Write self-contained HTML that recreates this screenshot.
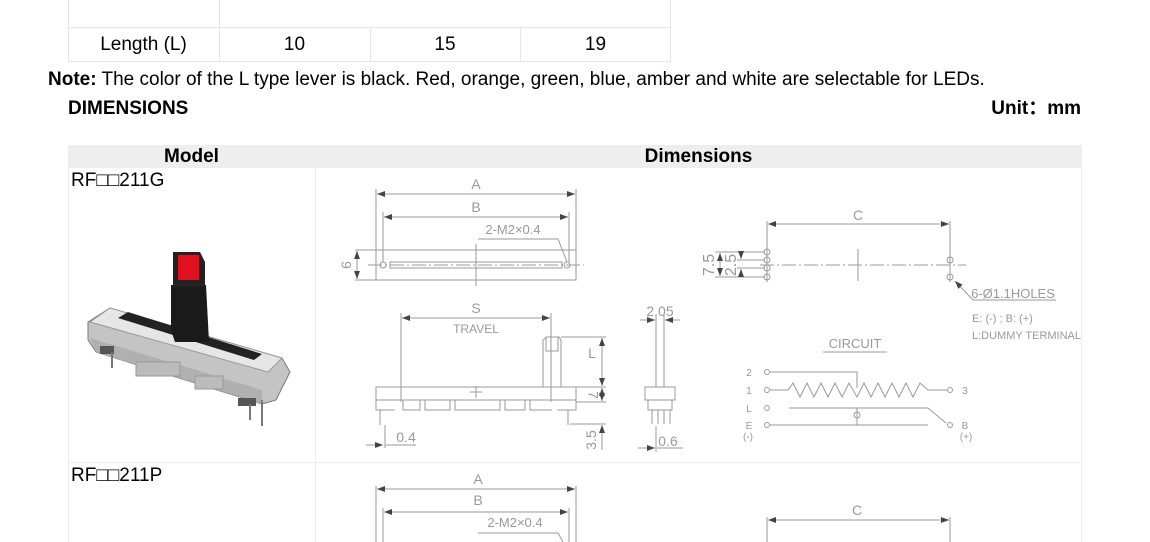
<!DOCTYPE html>
<html><head><meta charset="utf-8"><style>
body{margin:0;width:1150px;height:542px;overflow:hidden;background:#fff;font-family:"Liberation Sans",sans-serif;color:#000;position:relative}
.t{position:absolute;white-space:nowrap;line-height:22px}
.c{position:absolute;font-size:19px;text-align:center;line-height:22px}
svg{position:absolute;left:0;top:0}
</style></head><body>
<div class="t" style="left:68px;top:0;width:603px;height:62px;border:1px solid #e6e6e6;border-top:none;box-sizing:border-box"></div>
<div style="position:absolute;left:68px;top:27px;width:603px;height:1px;background:#e6e6e6"></div>
<div style="position:absolute;left:219px;top:0;width:1px;height:62px;background:#e6e6e6"></div>
<div style="position:absolute;left:370px;top:27px;width:1px;height:35px;background:#e6e6e6"></div>
<div style="position:absolute;left:520px;top:27px;width:1px;height:35px;background:#e6e6e6"></div>
<div class="c" style="left:68px;top:34px;width:151px">Length (L)</div>
<div class="c" style="left:219px;top:34px;width:151px">10</div>
<div class="c" style="left:370px;top:34px;width:150px">15</div>
<div class="c" style="left:520px;top:34px;width:151px">19</div>
<div class="t" style="left:48px;top:69px;font-size:19px"><b>Note:</b> The color of the L type lever is black. Red, orange, green, blue, amber and white are selectable for LEDs.</div>
<div class="t" style="left:68px;top:98px;font-size:19px;font-weight:bold">DIMENSIONS</div>
<div class="t" style="right:69px;top:98px;font-size:19px;font-weight:bold;font-family:'Liberation Sans','Noto Sans CJK SC',sans-serif">Unit：mm</div>
<div style="position:absolute;left:68px;top:145px;width:1014px;height:23px;background:#eeeeee"></div>
<div class="c" style="left:68px;top:146px;width:247px;font-weight:bold">Model</div>
<div class="c" style="left:315px;top:146px;width:767px;font-weight:bold">Dimensions</div>
<div style="position:absolute;left:68px;top:168px;width:1px;height:374px;background:#ececec"></div>
<div style="position:absolute;left:315px;top:168px;width:1px;height:374px;background:#ececec"></div>
<div style="position:absolute;left:1081px;top:168px;width:1px;height:374px;background:#ececec"></div>
<div style="position:absolute;left:68px;top:462px;width:1014px;height:1px;background:#ececec"></div>
<div class="t" style="left:71px;top:170px;font-size:19px;font-family:'Liberation Sans','Noto Sans CJK SC',sans-serif">RF□□211G</div>
<div class="t" style="left:71px;top:465px;font-size:19px;font-family:'Liberation Sans','Noto Sans CJK SC',sans-serif">RF□□211P</div>

<svg width="1150" height="542" viewBox="0 0 1150 542">
<defs><marker id="a" markerWidth="8" markerHeight="6" refX="8" refY="3" orient="auto-start-reverse"><path d="M0,0 L8,3 L0,6z" fill="#444"/></marker></defs>
<g>
<polygon points="88,322 110,308 282,358 290,372 276,400 262,404 96,352 88,340" fill="#c4c4c4" stroke="#777"/>
<polygon points="90,322 110,308 282,358 268,372" fill="#e6e6e6" stroke="#999"/>
<polygon points="118,318 128,312 262,354 254,360" fill="#222"/>
<polygon points="96,352 262,404 262,390 90,338" fill="#b0b0b0"/>
<rect x="136" y="362" width="44" height="14" fill="#bbb" stroke="#999"/>
<rect x="195" y="376" width="28" height="13" fill="#bbb" stroke="#999"/>
<rect x="100" y="346" width="14" height="8" fill="#555"/>
<rect x="238" y="398" width="18" height="8" fill="#555"/>
<line x1="112" y1="352" x2="112" y2="368" stroke="#777" stroke-width="2"/>
<line x1="262" y1="400" x2="262" y2="426" stroke="#777" stroke-width="2"/>
<line x1="250" y1="404" x2="250" y2="420" stroke="#777" stroke-width="2"/>
<polygon points="171,285 206,285 209,342 175,342 171,330" fill="#1a1a1a"/>
<polygon points="173,252 200,252 205,262 205,287 173,287" fill="#222"/>
<rect x="178" y="255" width="21" height="25" fill="#e01020"/>
</g>
<g stroke="#9a9a9a" fill="none" stroke-width="1">
<line x1="376" y1="189" x2="376" y2="280"/><line x1="576" y1="189" x2="576" y2="280"/>
<line x1="377" y1="194" x2="575" y2="194" marker-start="url(#a)" marker-end="url(#a)"/>
<line x1="383" y1="212" x2="383" y2="262"/><line x1="569" y1="212" x2="569" y2="262"/>
<line x1="384" y1="217" x2="568" y2="217" marker-start="url(#a)" marker-end="url(#a)"/>
<polyline points="478,239 558,239 567,262"/>
<rect x="376" y="250" width="200" height="30"/>
<rect x="390" y="262" width="172" height="6"/>
<circle cx="383" cy="265" r="3"/><circle cx="567" cy="265" r="3"/>
<line x1="368" y1="265" x2="584" y2="265" stroke-dasharray="14,3,2,3"/>
<line x1="476" y1="244" x2="476" y2="286"/>
<line x1="355" y1="250" x2="376" y2="250"/><line x1="355" y1="280" x2="376" y2="280"/>
<line x1="357" y1="251" x2="357" y2="279" marker-start="url(#a)" marker-end="url(#a)"/>
<line x1="401" y1="313" x2="401" y2="402"/><line x1="551" y1="313" x2="551" y2="402"/>
<line x1="402" y1="318" x2="550" y2="318" marker-start="url(#a)" marker-end="url(#a)"/>
<path d="M543,387 L543,340 L547,337 L559,337 L561,340 L561,387"/>
<rect x="546" y="337" width="12" height="14"/>
<rect x="376" y="387" width="200" height="13"/>
<path d="M376,400 L376,410 L395,410 M403,400 L403,410 L420,410 L420,400 M425,400 L425,410 L450,410 L450,400 M455,400 L455,410 L500,410 L500,400 M505,400 L505,410 L525,410 L525,400 M530,400 L530,410 L552,410 M557,410 L576,410 L576,400"/>
<line x1="380" y1="410" x2="380" y2="425"/><line x1="568" y1="410" x2="568" y2="425"/>
<line x1="476" y1="386" x2="476" y2="398"/><line x1="470" y1="392" x2="482" y2="392"/>
<line x1="561" y1="337" x2="606" y2="337"/><line x1="576" y1="387" x2="606" y2="387"/><line x1="576" y1="402" x2="606" y2="402"/><line x1="570" y1="424" x2="606" y2="424"/>
<line x1="602" y1="338" x2="602" y2="386" marker-start="url(#a)" marker-end="url(#a)"/>
<line x1="602" y1="388" x2="602" y2="401" marker-start="url(#a)" marker-end="url(#a)"/>
<line x1="602" y1="425" x2="602" y2="450" marker-start="url(#a)"/>
<line x1="385" y1="425" x2="385" y2="448"/><line x1="366" y1="445" x2="383" y2="445" marker-end="url(#a)"/><line x1="386" y1="445" x2="416" y2="445"/>
<line x1="656" y1="315" x2="656" y2="387"/><line x1="664" y1="315" x2="664" y2="387"/>
<line x1="640" y1="320" x2="655" y2="320" marker-end="url(#a)"/><line x1="665" y1="320" x2="680" y2="320" marker-start="url(#a)"/>
<rect x="645" y="387" width="30" height="13"/>
<path d="M648,400 L648,410 L672,410 L672,400"/>
<line x1="652" y1="410" x2="652" y2="424"/><line x1="658" y1="410" x2="658" y2="424"/><line x1="664" y1="410" x2="664" y2="424"/><line x1="670" y1="410" x2="670" y2="424"/>
<line x1="656" y1="426" x2="656" y2="452"/><line x1="638" y1="448" x2="655" y2="448" marker-end="url(#a)"/><line x1="657" y1="448" x2="683" y2="448"/>
<line x1="767" y1="221" x2="767" y2="282"/><line x1="950" y1="221" x2="950" y2="282"/>
<line x1="768" y1="224" x2="949" y2="224" marker-start="url(#a)" marker-end="url(#a)"/>
<line x1="760" y1="265" x2="966" y2="265" stroke-dasharray="14,3,2,3"/>
<line x1="858" y1="249" x2="858" y2="281"/>
<circle cx="767" cy="252" r="3"/><circle cx="767" cy="260" r="3"/><circle cx="767" cy="268" r="3"/><circle cx="767" cy="277" r="3"/>
<circle cx="950" cy="260" r="3"/><circle cx="950" cy="277" r="3"/>
<line x1="715" y1="252" x2="765" y2="252"/><line x1="715" y1="277" x2="765" y2="277"/>
<line x1="720" y1="253" x2="720" y2="276" marker-start="url(#a)" marker-end="url(#a)"/>
<line x1="737" y1="260" x2="765" y2="260"/><line x1="737" y1="268" x2="765" y2="268"/>
<line x1="741" y1="253" x2="741" y2="259" marker-end="url(#a)"/><line x1="741" y1="275" x2="741" y2="269" marker-end="url(#a)"/>
<polyline points="1056,300 973,300 955,281" marker-end="url(#a)"/>
<line x1="823" y1="352" x2="887" y2="352"/>
<circle cx="767" cy="372" r="2.5"/><circle cx="767" cy="390" r="2.5"/><circle cx="767" cy="408" r="2.5"/><circle cx="767" cy="425" r="2.5"/>
<circle cx="950" cy="390" r="2.5"/><circle cx="950" cy="425" r="2.5"/>
<polyline points="770,372 857,372 857,388"/>
<polyline points="770,390 788,390 793,383 800,397 807,383 814,397 821,383 828,397 835,383 842,397 849,383 857,397 864,383 871,397 878,383 885,397 892,383 899,397 906,383 913,397 920,383 928,390 947,390"/>
<polyline points="789,408 928,408 946,423"/>
<line x1="770" y1="425" x2="928" y2="425"/>
<line x1="857" y1="408" x2="857" y2="425"/><circle cx="857" cy="415" r="3"/>
<line x1="376" y1="486" x2="376" y2="542"/><line x1="576" y1="486" x2="576" y2="542"/>
<line x1="377" y1="489" x2="575" y2="489" marker-start="url(#a)" marker-end="url(#a)"/>
<line x1="383" y1="508" x2="383" y2="542"/><line x1="569" y1="508" x2="569" y2="542"/>
<line x1="384" y1="512" x2="568" y2="512" marker-start="url(#a)" marker-end="url(#a)"/>
<polyline points="478,533 558,533 563,542"/>
<line x1="767" y1="517" x2="767" y2="542"/><line x1="950" y1="517" x2="950" y2="542"/>
<line x1="768" y1="520" x2="949" y2="520" marker-start="url(#a)" marker-end="url(#a)"/>
</g>
<g fill="#999" font-family="Liberation Sans,sans-serif" font-size="14" text-anchor="middle">
<text x="476" y="189">A</text><text x="476" y="212">B</text>
<text x="513" y="234" font-size="13">2-M2×0.4</text>
<text x="345" y="265" transform="rotate(90 345 265)" dominant-baseline="middle">9</text>
<text x="476" y="313">S</text><text x="476" y="333" font-size="12">TRAVEL</text>
<text x="592" y="358">L</text>
<text x="592" y="395" transform="rotate(90 592 395)" dominant-baseline="middle">7</text>
<text x="596" y="440" transform="rotate(-90 596 440)">3.5</text>
<text x="406" y="442">0.4</text>
<text x="660" y="316">2.05</text>
<text x="668" y="446">0.6</text>
<text x="858" y="220">C</text>
<text x="714" y="265" transform="rotate(-90 714 265)" font-size="16">7.5</text>
<text x="736" y="265" transform="rotate(-90 736 265)" font-size="16">2.5</text>
<text x="1013" y="298" font-size="13">6-Ø1.1HOLES</text>
<text x="972" y="322" font-size="11" text-anchor="start">E: (-)  ;  B: (+)</text>
<text x="972" y="339" font-size="11" text-anchor="start">L:DUMMY TERMINAL</text>
<text x="855" y="348" font-size="13">CIRCUIT</text>
<g font-size="10"><text x="749" y="376">2</text><text x="749" y="394">1</text><text x="749" y="412">L</text><text x="749" y="429">E</text><text x="748" y="440">(-)</text><text x="965" y="394">3</text><text x="965" y="429">B</text><text x="966" y="440">(+)</text></g>
<text x="478" y="484">A</text><text x="478" y="505">B</text>
<text x="515" y="527" font-size="13">2-M2×0.4</text>
<text x="857" y="515">C</text>
</g>
</svg>
</body></html>
